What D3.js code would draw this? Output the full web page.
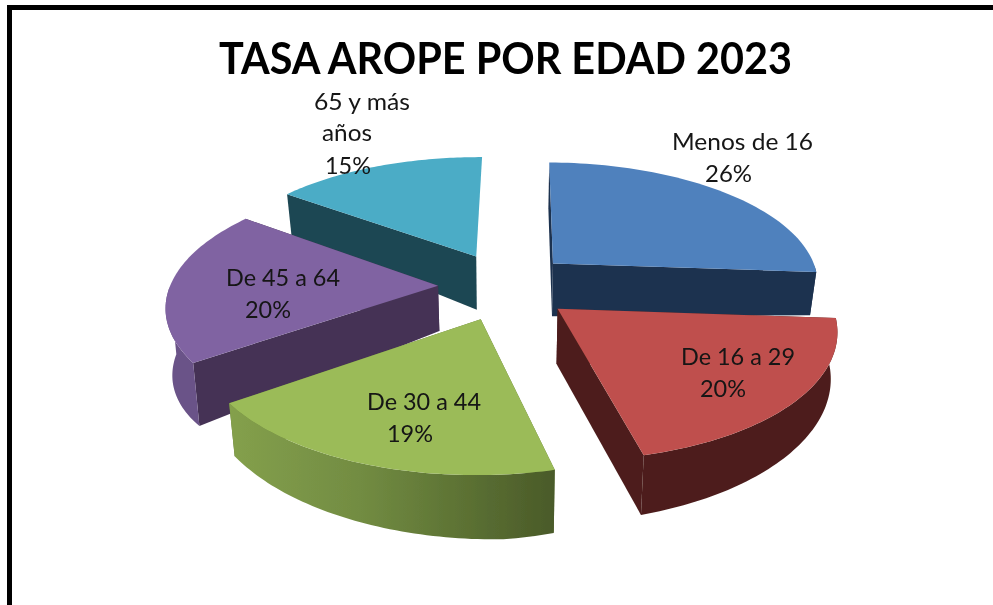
<!DOCTYPE html>
<html><head><meta charset="utf-8">
<script src="https://cdn.jsdelivr.net/npm/d3@7/dist/d3.min.js"></script>
<style>html,body{margin:0;padding:0;background:#fff}svg{display:block}text{font-family:Lato,"Open Sans",sans-serif;fill:#141414}</style>
</head><body><svg id="c" width="993" height="605"></svg>
<script>
const titleText = "TASA AROPE POR EDAD 2023";
const categories = ["Menos de 16","De 16 a 29","De 30 a 44","De 45 a 64","65 y más años"];
const values = [26,20,19,20,15];
const topColors = ["#4f81bd","#bf504d","#9bbb59","#8064a2","#4bacc6"];
const sideColors = ["#1f3350","#4d1f1d","#5f7535","#453355","#1f4652"];
const wallColors = ["#1f3350","#4d1f1d","url(#greenWall)","#6b5388","#1f4652"];
const drawOrder = [4,0,3,1,2];

// [text line, left x, right x, baseline y] for each label line
const labelLines = [
  [[categories[0],672,813,150],["26%",705,752,182]],
  [[categories[1],681,795,365],["20%",700,746,397]],
  [[categories[2],367,481,410],["19%",387,433,442]],
  [[categories[3],226,340,286],["20%",245,291,318]],
  [["65 y más",314,410,110],["años",322,372,141],["15%",325,371,174]]
];

// perspective projection of the tilted pie
const cx=505, cy=286, B=268, A=122, K=0.147, EX=0.25, EY=0.28, M=0.98, ROT=0.01;
const project=(u,v)=>{const s=1/(1-K*v);return [cx+B*u*s, cy+A*v*s];};
const wallHeight=(i,u,v)=> i===3 ? 45+22*(Math.abs(u)-0.24) : 56+7*v-10*Math.abs(u);
const drop=(i,u,v)=>{const p=project(u,v);return [cx+(p[0]-cx)*M,p[1]+wallHeight(i,u,v)];};

const svg=d3.select("#c");
const defs=svg.append("defs");
const g=defs.append("linearGradient").attr("id","greenWall").attr("gradientUnits","userSpaceOnUse")
  .attr("x1",230).attr("x2",555).attr("y1",0).attr("y2",0);
[[0,"#84a04c"],[.4,"#728c42"],[.75,"#5a6f32"],[1,"#4a5a29"]].forEach(s=>g.append("stop").attr("offset",s[0]).attr("stop-color",s[1]));
const f=defs.append("filter").attr("id","soft").attr("x","-5%").attr("y","-5%").attr("width","110%").attr("height","110%");
f.append("feGaussianBlur").attr("stdDeviation",0.45);

// frame
svg.append("rect").attr("x",7).attr("y",5).attr("width",986).attr("height",5).attr("fill","#000");
svg.append("rect").attr("x",7).attr("y",5).attr("width",5).attr("height",600).attr("fill","#000");

const root=svg.append("g").attr("filter","url(#soft)");
const arcs=d3.pie().sort(null).value(d=>d).startAngle(ROT).endAngle(2*Math.PI+ROT)(values);
const line=d3.line().curve(d3.curveLinearClosed);

drawOrder.forEach(i=>{
  const a=arcs[i], mid=(a.startAngle+a.endAngle)/2;
  const ou=EX*Math.sin(mid), ov=-EY*Math.cos(mid);
  const uv=t=>[ou+Math.sin(t), ov-Math.cos(t)];
  const angles=d3.range(0,61).map(j=>a.startAngle+(a.endAngle-a.startAngle)*j/60);
  const top=angles.map(t=>project(...uv(t)));
  const bottom=angles.map(t=>drop(i,...uv(t)));
  const ap=project(ou,ov), ab=drop(i,ou,ov);
  const grp=root.append("g");
  // radial faces (the last slice's closing face points away from the viewer)
  (i===4?[0]:[0,60]).forEach(j=>{
    grp.append("path").attr("d",line([ap,top[j],bottom[j],ab])).attr("fill",sideColors[i]);
  });
  // outer wall: only the part facing the viewer
  const front=angles.map((t,j)=>j).filter(j=>Math.cos(angles[j])<0);
  if(front.length>1){
    const w=front.map(j=>top[j]).concat(front.map(j=>bottom[j]).reverse());
    grp.append("path").attr("d",line(w)).attr("fill",wallColors[i]);
  }
  grp.append("path").attr("d",line([ap].concat(top))).attr("fill",topColors[i]);
});

root.append("text").text(titleText).attr("x",219).attr("y",74).attr("font-size",43).attr("font-weight",700)
  .attr("textLength",573).attr("lengthAdjust","spacingAndGlyphs").style("fill","#000");
labelLines.flat().forEach(l=>{
  root.append("text").text(l[0]).attr("x",l[1]).attr("y",l[3]).attr("font-size",23)
   .attr("textLength",l[2]-l[1]).attr("lengthAdjust","spacingAndGlyphs");
});
</script></body></html>
